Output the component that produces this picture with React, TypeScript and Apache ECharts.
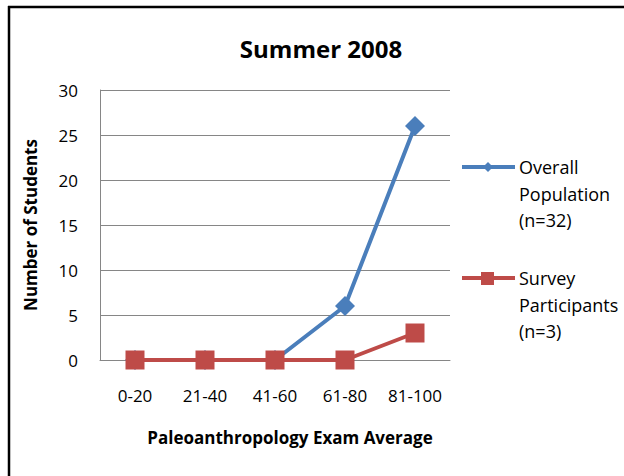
import React, { useEffect, useRef } from "react";
import * as echarts from "echarts";

const categories = ["0-20", "21-40", "41-60", "61-80", "81-100"];
const overallPopulation = [0, 0, 0, 6, 26];
const surveyParticipants = [0, 0, 0, 0, 3];
const yTicks = { min: 0, max: 30, interval: 5 };
const legendOverall = ["Overall", "Population", "(n=32)"];
const legendSurvey = ["Survey", "Participants", "(n=3)"];

const BLUE = "#4A7EBB";
const RED = "#BE4B48";
const FONT = "'Open Sans', Lato, sans-serif";

export default function App() {
  const ref = useRef<HTMLDivElement>(null);
  useEffect(() => {
    if (!ref.current) return;
    const chart = echarts.init(ref.current, null, { renderer: "svg" });
    const legendText = (lines: string[], x: number, y0: number) =>
      lines.map((t, i) => ({
        type: "text",
        x,
        y: y0 + i * 26.5,
        style: { text: t, fontSize: 18, fontFamily: FONT, fill: "#000", textVerticalAlign: "middle" },
      }));
    chart.setOption({
      animation: false,
      backgroundColor: "#fff",
      textStyle: { fontFamily: FONT },
      grid: { left: 100, right: 174, top: 90, bottom: 116, containLabel: false },
      xAxis: {
        type: "category",
        data: categories,
        boundaryGap: true,
        axisLine: { lineStyle: { color: "#868686", width: 1 } },
        axisTick: { show: false },
        axisLabel: {
          color: "#000",
          fontSize: 17,
          fontFamily: FONT,
          margin: 27,
          interval: 0,
          hideOverlap: false,
        },
      },
      yAxis: {
        type: "value",
        min: yTicks.min,
        max: yTicks.max,
        interval: yTicks.interval,
        axisLine: { show: true, lineStyle: { color: "#868686", width: 1 } },
        axisTick: { show: false },
        splitLine: { lineStyle: { color: "#868686", width: 1 } },
        axisLabel: { color: "#000", fontSize: 17, fontFamily: FONT, margin: 22 },
      },
      series: [
        {
          name: "Overall Population (n=32)",
          type: "line",
          data: overallPopulation,
          symbol: "diamond",
          symbolSize: 20,
          lineStyle: { color: BLUE, width: 4 },
          itemStyle: { color: BLUE },
          z: 2,
        },
        {
          name: "Survey Participants (n=3)",
          type: "line",
          data: surveyParticipants,
          symbol: "rect",
          symbolSize: 19,
          lineStyle: { color: RED, width: 4 },
          itemStyle: { color: RED },
          z: 3,
        },
      ],
      graphic: [
        { type: "line", shape: { x1: 8, y1: 7, x2: 624, y2: 7 }, style: { stroke: "#000", lineWidth: 2.5 } },
        { type: "line", shape: { x1: 9, y1: 6, x2: 9, y2: 476 }, style: { stroke: "#000", lineWidth: 2.5 } },
        {
          type: "text",
          x: 321,
          y: 48,
          style: {
            text: "Summer 2008",
            fontSize: 24,
            fontWeight: "bold",
            fontFamily: FONT,
            fill: "#000",
            textAlign: "center",
            textVerticalAlign: "middle",
          },
        },
        {
          type: "text",
          x: 290,
          y: 437,
          style: {
            text: "Paleoanthropology Exam Average",
            fontSize: 17,
            fontWeight: "bold",
            fontFamily: FONT,
            fill: "#000",
            textAlign: "center",
            textVerticalAlign: "middle",
          },
        },
        {
          type: "text",
          x: 30,
          y: 225,
          rotation: Math.PI / 2,
          style: {
            text: "Number of Students",
            fontSize: 17,
            fontWeight: "bold",
            fontFamily: FONT,
            fill: "#000",
            textAlign: "center",
            textVerticalAlign: "middle",
          },
        },
        { type: "line", shape: { x1: 462, y1: 167, x2: 515, y2: 167 }, style: { stroke: BLUE, lineWidth: 4 } },
        { type: "polygon", shape: { points: [[488, 162], [493, 167], [488, 172], [483, 167]] }, style: { fill: BLUE } },
        ...legendText(legendOverall, 519, 167),
        { type: "line", shape: { x1: 462, y1: 278, x2: 515, y2: 278 }, style: { stroke: RED, lineWidth: 4 } },
        { type: "rect", shape: { x: 481, y: 272, width: 13, height: 13 }, style: { fill: RED } },
        ...legendText(legendSurvey, 519, 278),
      ],
    });
    return () => chart.dispose();
  }, []);
  return (
    <div
      ref={ref}
      style={{ position: "fixed", left: 0, top: 0, width: 624, height: 476 }}
    />
  );
}
